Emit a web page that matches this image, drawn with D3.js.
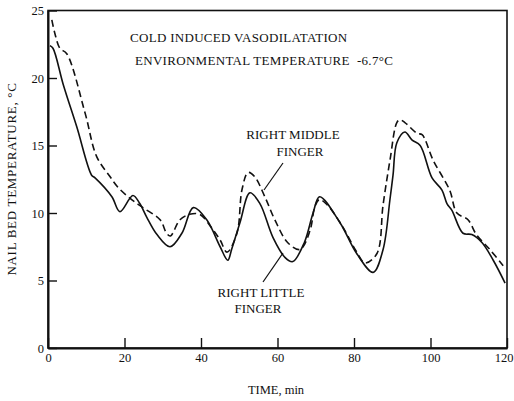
<!DOCTYPE html>
<html>
<head>
<meta charset="utf-8">
<script src="https://cdn.jsdelivr.net/npm/d3@7/dist/d3.min.js"></script>
<style>
  html, body { margin: 0; padding: 0; background: #fff; }
  svg text { font-family: "Liberation Serif", "Times New Roman", serif; fill: #111; }
</style>
</head>
<body>
<svg id="chart" width="514" height="401"></svg>
<script>
// ---- data ----
const xTicks = [0, 20, 40, 60, 80, 100, 120];
const yTicks = [0, 5, 10, 15, 20, 25];

const littleTime = [0.5, 1.3, 4, 7.5, 11.4, 12.3, 16.7, 18.8, 22.2, 24, 25.8, 28.5, 31.9, 35, 38, 41.5, 45, 47, 48, 50.2, 52.8, 55.4, 58.8, 62, 64, 67, 69.3, 71, 76.3, 80.7, 85, 87.6, 89.4, 90.2, 91.2, 93.3, 95.2, 97.3, 100.4, 103, 104.3, 105.6, 108.5, 110.8, 113.5, 116.4, 119.5];
const littleTemp = [22.4, 22.2, 19.5, 16.4, 12.8, 12.6, 11.2, 10.1, 11.3, 10.7, 9.7, 8.4, 7.5, 8.5, 10.4, 9.5, 7.5, 6.5, 7.3, 9.3, 11.5, 10.7, 8.2, 6.7, 6.4, 7.8, 10, 11.2, 9.3, 7.0, 5.6, 7.3, 11.0, 12.8, 15.2, 16.0, 15.4, 15.0, 12.6, 11.7, 10.7, 10.2, 8.5, 8.4, 7.8, 6.5, 4.8];

const middleTime = [1, 1.8, 3.1, 4.9, 9.7, 12.7, 16.2, 18.3, 21.4, 24.8, 29.3, 31, 32, 34.5, 37, 39.7, 42.5, 45, 46.8, 49.4, 50.7, 52.3, 54, 56.7, 59.3, 62.7, 65.9, 68.5, 69.8, 71, 73, 77, 80.5, 82.9, 86, 87.6, 89.4, 91.2, 92, 93.3, 96.5, 97.8, 100.7, 105, 106.9, 109.8, 112, 115.5, 119];
const middleTemp = [24.3, 23.3, 22.2, 21.8, 17.4, 14.2, 12.7, 11.9, 11.1, 10.4, 9.5, 8.5, 8.3, 9.5, 9.9, 9.9, 9.0, 8.0, 7.1, 8.5, 11.7, 13.0, 12.7, 11.2, 9.5, 7.8, 7.3, 8.7, 10.5, 11.0, 10.6, 9.0, 7.2, 6.3, 7.0, 10.6, 13.9, 16.7, 16.9, 16.7, 15.9, 15.8, 13.9, 11.7, 10.0, 9.5, 8.4, 7.3, 6.1];

const titleLines = ["COLD INDUCED VASODILATATION", "ENVIRONMENTAL TEMPERATURE  -6.7°C"];
const xLabel = "TIME, min";
const yLabel = "NAIL BED TEMPERATURE, °C";
const middleLabel = ["RIGHT MIDDLE", "FINGER"];
const littleLabel = ["RIGHT LITTLE", "FINGER"];

// ---- layout ----
const svg = d3.select("#chart");
const x = d3.scaleLinear().domain([0, 120]).range([48, 507]);
const y = d3.scaleLinear().domain([0, 25]).range([348, 10.5]);

// frame
svg.append("rect")
  .attr("x", x(0)).attr("y", y(25))
  .attr("width", x(120) - x(0)).attr("height", y(0) - y(25))
  .attr("fill", "none").attr("stroke", "#111").attr("stroke-width", 1.6);

// axes
const gx = svg.append("g").attr("transform", `translate(0,${y(0)})`)
  .call(d3.axisBottom(x).tickValues(xTicks).tickSize(-10).tickSizeOuter(0).tickPadding(5));
const gy = svg.append("g").attr("transform", `translate(${x(0)},0)`)
  .call(d3.axisLeft(y).tickValues(yTicks).tickSize(-9).tickSizeOuter(0).tickPadding(4));
[gx, gy].forEach(g => {
  g.select(".domain").attr("stroke", "#111").attr("stroke-width", 2);
  g.selectAll(".tick line").attr("stroke", "#111").attr("stroke-width", 1.4);
  g.selectAll(".tick text").attr("font-size", 12.5).attr("fill", "#111")
    .style("font-family", '"Liberation Serif", serif');
});
// keep the last x label inside the page
gx.selectAll(".tick text").filter(d => d === 120).attr("text-anchor", "end").attr("dx", 6);

// lines
const line = d3.line().x(d => x(d[0])).y(d => y(d[1])).curve(d3.curveCatmullRom.alpha(0.5));
const little = littleTime.map((t, i) => [t, littleTemp[i]]);
const middle = middleTime.map((t, i) => [t, middleTemp[i]]);

svg.append("path").datum(little).attr("d", line)
  .attr("fill", "none").attr("stroke", "#111").attr("stroke-width", 1.6);
svg.append("path").datum(middle).attr("d", line)
  .attr("fill", "none").attr("stroke", "#111").attr("stroke-width", 1.6)
  .attr("stroke-dasharray", "7,4");

// title
svg.append("text").attr("x", 130).attr("y", 42).attr("font-size", 13)
  .attr("letter-spacing", 0.3).text(titleLines[0]);
svg.append("text").attr("x", 135).attr("y", 65).attr("font-size", 13)
  .attr("letter-spacing", 0.3).attr("xml:space", "preserve").style("white-space", "pre").text(titleLines[1]);

// annotations
svg.append("text").attr("x", 293).attr("y", 139).attr("font-size", 13).attr("text-anchor", "middle").text(middleLabel[0]);
svg.append("text").attr("x", 300).attr("y", 156).attr("font-size", 13).attr("text-anchor", "middle").text(middleLabel[1]);
svg.append("line").attr("x1", 283).attr("y1", 163).attr("x2", 264).attr("y2", 190)
  .attr("stroke", "#111").attr("stroke-width", 1.2);

svg.append("text").attr("x", 261).attr("y", 297).attr("font-size", 13).attr("text-anchor", "middle").text(littleLabel[0]);
svg.append("text").attr("x", 258).attr("y", 313).attr("font-size", 13).attr("text-anchor", "middle").text(littleLabel[1]);
svg.append("line").attr("x1", 263).attr("y1", 282).attr("x2", 283).attr("y2", 253)
  .attr("stroke", "#111").attr("stroke-width", 1.2);

// axis labels
svg.append("text").attr("x", 276).attr("y", 394).attr("font-size", 12.5).attr("text-anchor", "middle").text(xLabel);
svg.append("text").attr("transform", "translate(16,179) rotate(-90)")
  .attr("font-size", 13).attr("letter-spacing", 0.7).attr("text-anchor", "middle").text(yLabel);
</script>
</body>
</html>
